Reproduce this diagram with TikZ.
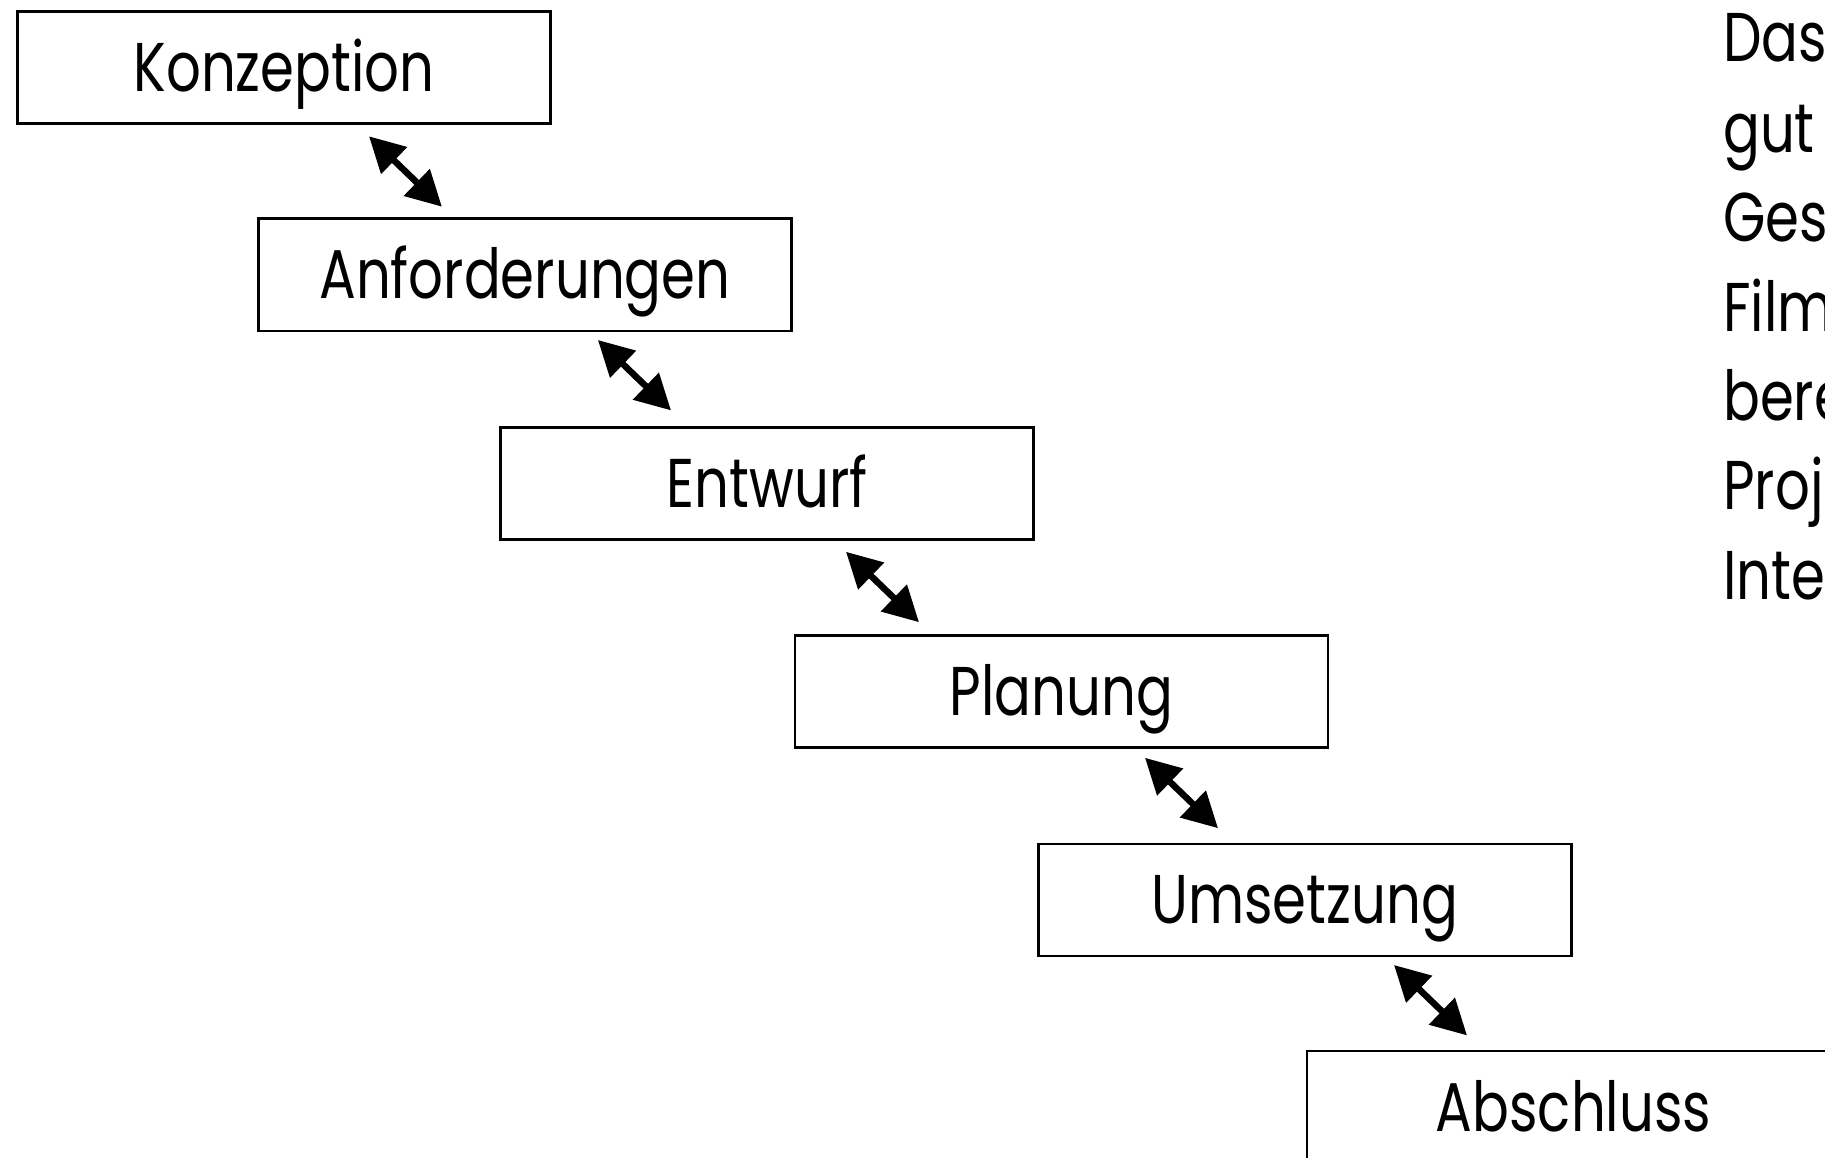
\documentclass[tikz,border=0pt]{standalone}
\usepackage{fontspec}
\usetikzlibrary{arrows.meta}
\newfontfamily\stagefont[FakeStretch=0.79]{Poppins}
\begin{document}
\begin{tikzpicture}[x=1pt,y=-1pt,
  stagebox/.style={draw=black, line width=2.6pt, minimum width=533pt, minimum height=112pt,
    inner sep=0pt, text height=48pt, text depth=0pt,
    font=\stagefont\fontsize{69}{80}\selectfont},
  sidetext/.style={anchor=base west, inner sep=0pt, font=\stagefont\fontsize{69}{80}\selectfont},
  twoway/.style={line width=6.5pt, {Triangle[length=35pt,width=36pt]}-{Triangle[length=35pt,width=36pt]}}
]
\useasboundingbox (0,0) rectangle (1825,1158);
\clip (0,0) rectangle (1825,1158);
\fill[white] (0,0) rectangle (1825,1158);

\node[stagebox] (k) at (284,67.6) {Konzeption};
\node[stagebox] (a) at (524.9,274.8) {Anforderungen};
\node[stagebox] (e) at (767,483.2) {Entwurf};
\node[stagebox] (p) at (1061.5,691.5) {Planung};
\node[stagebox] (u) at (1304.7,899.8) {Umsetzung};
\node[stagebox] (s) at (1573.5,1107) {Abschluss};

\draw[twoway] ([xshift=85pt,yshift=-11.4pt]k.south) -- ([xshift=-83pt,yshift=10.8pt]a.north);
\draw[twoway] ([xshift=73pt,yshift=-7.9pt]a.south) -- ([xshift=-96pt,yshift=15.5pt]e.north);
\draw[twoway] ([xshift=79pt,yshift=-11.3pt]e.south) -- ([xshift=-142.5pt,yshift=12pt]p.north);
\draw[twoway] ([xshift=83.5pt,yshift=-9pt]p.south) -- ([xshift=-86.7pt,yshift=14.3pt]u.north);
\draw[twoway] ([xshift=89.3pt,yshift=-7.9pt]u.south) -- ([xshift=-106.5pt,yshift=14.3pt]s.north);

\node[sidetext] (t1) at (1723,62) {Das};
\node[sidetext] (t2) at (1723,153) {gut};
\node[sidetext] (t3) at (1723,242) {Ges};
\node[sidetext] (t4) at (1723,331) {Film};
\node[sidetext] (t5) at (1723,420) {bere};
\node[sidetext] (t6) at (1723,509.5) {Proj};
\node[sidetext] (t7) at (1723,599) {Inter};
\end{tikzpicture}
\end{document}
